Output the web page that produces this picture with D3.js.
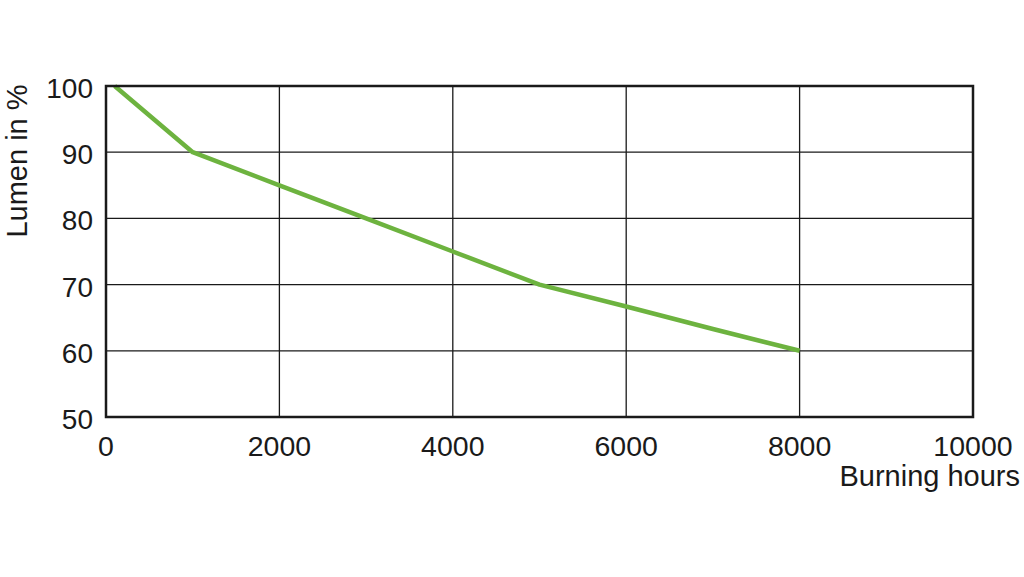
<!DOCTYPE html>
<html><head><meta charset="utf-8">
<script src="https://cdn.jsdelivr.net/npm/d3@7"></script>
<style>body{margin:0;background:#fff;}svg{display:block;font-family:"Liberation Sans",Arial,sans-serif;}</style>
</head><body>
<svg id="c" width="1024" height="577"></svg>
<script>
const hours = [100, 1000, 2000, 3000, 4000, 5000, 6000, 7000, 8000];
const lumen = [100, 90, 85, 80, 75, 70, 66.7, 63.3, 60];
const xTicks = [0, 2000, 4000, 6000, 8000, 10000];
const yTicks = [50, 60, 70, 80, 90, 100];
const xTitle = "Burning hours";
const yTitle = "Lumen in %";

const svg = d3.select("#c");
const L = 106, R = 973, T = 86, B = 417;
const x = d3.scaleLinear().domain([0, 10000]).range([L, R]);
const y = d3.scaleLinear().domain([50, 100]).range([B, T]);

// grid
svg.append("g").selectAll("line").data(xTicks.slice(1, -1)).join("line")
  .attr("x1", d => x(d)).attr("x2", d => x(d)).attr("y1", T).attr("y2", B)
  .attr("stroke", "#1a1a1a").attr("stroke-width", 1.3);
svg.append("g").selectAll("line").data(yTicks.slice(1, -1)).join("line")
  .attr("y1", d => y(d)).attr("y2", d => y(d)).attr("x1", L).attr("x2", R)
  .attr("stroke", "#1a1a1a").attr("stroke-width", 1.3);

// line
const line = d3.line().x((d, i) => x(hours[i])).y(d => y(d));
svg.append("path").attr("d", line(lumen)).attr("fill", "none")
  .attr("stroke", "#6db33f").attr("stroke-width", 4.5).attr("stroke-linejoin", "round");

// frame
svg.append("rect").attr("x", L).attr("y", T).attr("width", R - L).attr("height", B - T)
  .attr("fill", "none").attr("stroke", "#1a1a1a").attr("stroke-width", 2.5);

// tick labels
svg.append("g").selectAll("text").data(xTicks).join("text")
  .attr("x", d => x(d)).attr("y", 456).attr("text-anchor", "middle")
  .attr("font-size", 28.5).attr("fill", "#1a1a1a").text(d => d);
svg.append("g").selectAll("text").data(yTicks).join("text")
  .attr("x", 93).attr("y", d => y(d) + 12).attr("text-anchor", "end")
  .attr("font-size", 28).attr("fill", "#1a1a1a").text(d => d);

// titles
svg.append("text").attr("x", 1020).attr("y", 486).attr("text-anchor", "end")
  .attr("font-size", 29).attr("fill", "#1a1a1a").text(xTitle);
svg.append("text").attr("transform", "translate(27,161) rotate(-90)").attr("text-anchor", "middle")
  .attr("font-size", 29).attr("fill", "#1a1a1a").text(yTitle);
</script>
</body></html>
